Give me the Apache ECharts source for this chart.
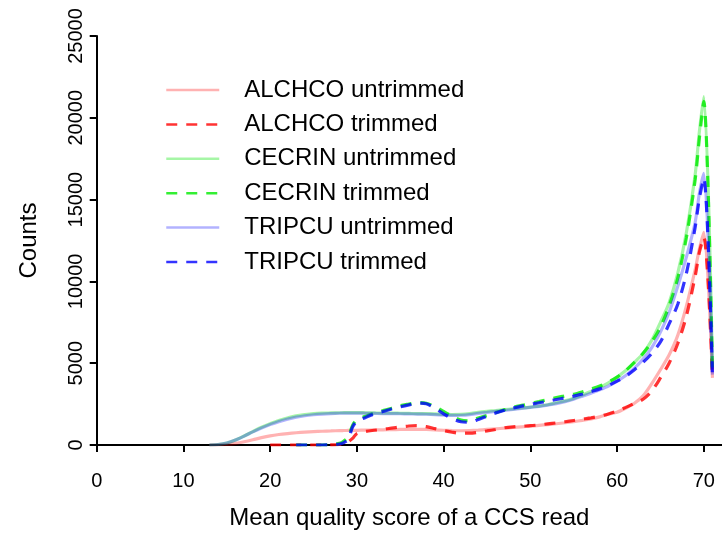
<!DOCTYPE html>
<html>
<head>
<meta charset="utf-8">
<script src="https://cdn.jsdelivr.net/npm/echarts@6/dist/echarts.min.js"></script>
<style>html,body{margin:0;padding:0;background:#fff}#c{width:722px;height:535px}</style>
</head>
<body>
<div id="c"></div>
<script>
var quality = [13,14,15,16,17,18,19,20,21,22,23,24,25,26,27,28,28.5,29,29.5,30,31,32,33,34,35,36,37,38,39,40,41,42,43,44,45,46,47,48,49,50,51,52,53,54,55,56,57,58,59,60,61,62,63,64,65,66,67,68,69,69.5,70,71];

var alchcoUntrimmed = [0,0,30,100,200,320,450,560,640,700,750,790,820,840,860,880,885,890,895,900,910,920,930,940,950,960,960,950,930,900,880,870,880,910,950,990,1030,1070,1110,1150,1200,1250,1300,1360,1430,1510,1600,1720,1880,2000,2250,2550,3000,3750,4600,5500,6700,8500,10700,12000,13000,4100];
var alchcoTrimmed = [null,null,null,null,null,null,null,0,0,0,0,0,0,0,10,30,80,200,400,700,830,900,960,1030,1100,1160,1180,1120,1000,880,780,720,720,780,860,950,1050,1110,1150,1180,1230,1290,1350,1420,1500,1580,1660,1760,1900,2080,2300,2550,2800,3300,4100,5000,6200,7900,10300,11800,12700,4100];
var cecrinUntrimmed = [0,30,120,300,550,820,1080,1300,1500,1650,1780,1860,1920,1950,1960,1970,1975,1980,1980,1980,1970,1960,1950,1950,1940,1930,1920,1920,1900,1870,1860,1870,1920,2000,2060,2110,2160,2210,2260,2320,2380,2460,2580,2700,2850,3050,3280,3520,3800,4150,4550,5050,5600,6400,7500,8700,10500,13000,16500,19200,21300,4700];
var cecrinTrimmed = [null,null,null,null,null,null,null,null,null,null,0,0,0,0,20,100,250,500,1200,1550,1750,1950,2100,2250,2400,2500,2590,2550,2350,2050,1750,1520,1480,1650,1800,1980,2150,2300,2420,2530,2650,2780,2900,3000,3100,3250,3420,3600,3850,4150,4550,5050,5600,6300,7200,8500,10200,12700,16200,18800,21000,4300];
var tripcuUntrimmed = [0,30,120,300,540,800,1040,1250,1430,1580,1700,1790,1850,1890,1920,1940,1950,1950,1950,1950,1940,1930,1920,1920,1910,1900,1890,1880,1860,1830,1810,1820,1860,1930,1990,2050,2110,2170,2230,2300,2360,2440,2530,2650,2800,2980,3170,3370,3600,3900,4250,4700,5250,5950,6900,8100,9700,11500,13600,15400,16600,4300];
var tripcuTrimmed = [null,null,null,null,null,null,null,null,null,null,0,0,0,0,10,60,150,350,1100,1450,1680,1900,2050,2200,2330,2450,2560,2520,2250,1900,1600,1420,1390,1560,1760,1950,2120,2260,2380,2480,2580,2680,2780,2880,2990,3120,3270,3430,3640,3900,4200,4600,5050,5600,6300,7400,8600,10500,13300,15100,16300,4200];

var xTicks = [0,10,20,30,40,50,60,70];
var yTicks = [0,5000,10000,15000,20000,25000];

function pairs(ys){ return quality.map(function(x,i){ return [x, ys[i]]; }); }

var FONT = 'Liberation Sans';
var seriesDefs = [
  {name:'ALCHCO untrimmed', data:alchcoUntrimmed, color:'rgba(255,0,0,0.3)', type:'solid'},
  {name:'ALCHCO trimmed', data:alchcoTrimmed, color:'rgba(255,0,0,0.8)', type:[11,9]},
  {name:'CECRIN untrimmed', data:cecrinUntrimmed, color:'rgba(0,230,0,0.35)', type:'solid'},
  {name:'CECRIN trimmed', data:cecrinTrimmed, color:'rgba(0,235,0,0.8)', type:[11,9]},
  {name:'TRIPCU untrimmed', data:tripcuUntrimmed, color:'rgba(0,0,255,0.3)', type:'solid'},
  {name:'TRIPCU trimmed', data:tripcuTrimmed, color:'rgba(0,0,255,0.8)', type:[11,9]}
];

var chart = echarts.init(document.getElementById('c'), null, {renderer:'canvas'});
chart.setOption({
  backgroundColor:'#fff',
  animation:false,
  grid:{left:96.7, top:36, right:0, bottom:87.3, containLabel:false},
  legend:{
    orient:'vertical', left:165, top:78, padding:0,
    itemWidth:53, itemHeight:24, itemGap:10.4,
    itemStyle:{opacity:0},
    lineStyle:{width:2.5},
    textStyle:{fontFamily:FONT, fontSize:24, color:'#000', padding:[0,0,0,20]},
    data:seriesDefs.map(function(s){return s.name;})
  },
  xAxis:{
    type:'value', min:0, max:72.1,
    name:'Mean quality score of a CCS read', nameLocation:'middle', nameGap:61,
    nameTextStyle:{fontFamily:FONT, fontSize:24, color:'#000'},
    axisLine:{show:true, onZero:false, lineStyle:{color:'#000', width:2}},
    axisTick:{show:true, inside:false, length:7, lineStyle:{color:'#000', width:2}, customValues:xTicks},
    axisLabel:{fontFamily:FONT, fontSize:20, color:'#000', margin:26, customValues:xTicks},
    splitLine:{show:false}
  },
  yAxis:{
    type:'value', min:0, max:25000, interval:5000,
    name:'Counts', nameLocation:'middle', nameGap:55, nameRotate:90,
    nameTextStyle:{fontFamily:FONT, fontSize:24, color:'#000'},
    axisLine:{show:true, lineStyle:{color:'#000', width:2}},
    axisTick:{show:true, inside:false, length:7, lineStyle:{color:'#000', width:2}},
    axisLabel:{fontFamily:FONT, fontSize:20, color:'#000', rotate:90, margin:10,
      formatter:function(v){ return String(v); }},
    splitLine:{show:false}
  },
  series:seriesDefs.map(function(s){
    return {
      name:s.name, type:'line', data:pairs(s.data), symbol:'none', showSymbol:false,
      smooth:0.3, connectNulls:false,
      lineStyle:{color:s.color, width:3.2, type:s.type},
      itemStyle:{color:s.color}
    };
  })
});
</script>
</body>
</html>
